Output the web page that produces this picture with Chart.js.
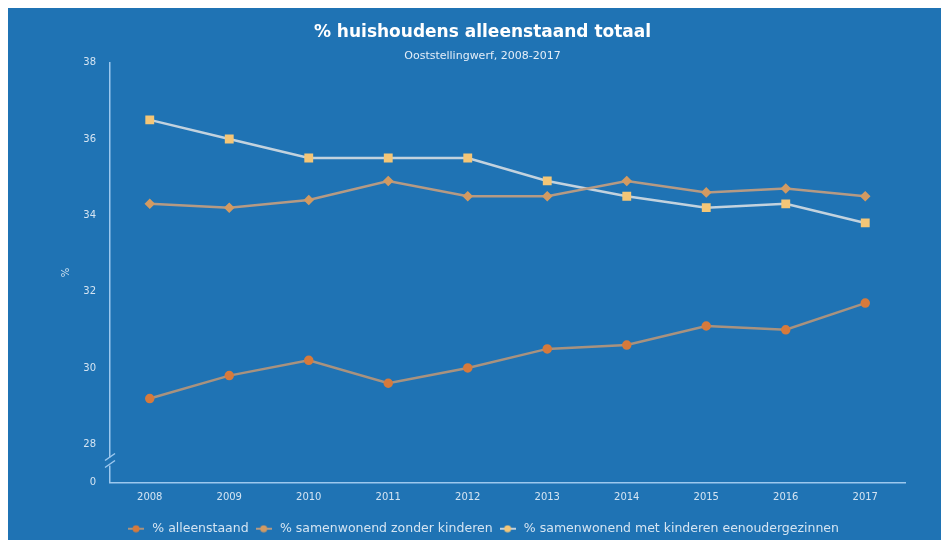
<!DOCTYPE html>
<html>
<head>
<meta charset="utf-8">
<script src="https://cdn.jsdelivr.net/npm/chart.js@4.4.0/dist/chart.umd.min.js"></script>
<style>
  html, body { margin: 0; padding: 0; background: #fff; }
  #wrap { position: absolute; left: 8px; top: 8px; width: 933px; height: 532px; background: #1f73b4; }
</style>
</head>
<body>
<div id="wrap"><canvas id="chart" width="933" height="532"></canvas></div>
<script>
// ---- DATA ----
const years = ['2008', '2009', '2010', '2011', '2012', '2013', '2014', '2015', '2016', '2017'];
const alleenstaand = [29.2, 29.8, 30.2, 29.6, 30.0, 30.5, 30.6, 31.1, 31.0, 31.7];
const zonderKinderen = [34.3, 34.2, 34.4, 34.9, 34.5, 34.5, 34.9, 34.6, 34.7, 34.5];
const metKinderen = [36.5, 36.0, 35.5, 35.5, 35.5, 34.9, 34.5, 34.2, 34.3, 33.8];

// y-as is onderbroken: waarde 27 staat voor "0"
const yTicks = [27, 28, 30, 32, 34, 36, 38];
const yTickLabels = ['0', '28', '30', '32', '34', '36', '38'];

const FONT = 'DejaVu Sans';
const AXIS_COLOR = '#9cc8ee';
const TEXT_COLOR = '#d4e4f2';

// legenda-symbool: lijntje met stip, zoals in het origineel
function legendIcon(lineColor, dotColor) {
  const cv = document.createElement('canvas');
  cv.width = 16;
  cv.height = 8;
  const c = cv.getContext('2d');
  c.strokeStyle = lineColor;
  c.lineWidth = 2;
  c.beginPath();
  c.moveTo(0, 4); c.lineTo(16, 4);
  c.stroke();
  c.fillStyle = dotColor;
  c.beginPath();
  c.arc(8, 4, 3.5, 0, Math.PI * 2);
  c.fill();
  return cv;
}

// ---- AS-ONDERBREKING TEKENEN ----
const axisBreak = {
  id: 'axisBreak',
  afterDraw(chart) {
    const y = chart.scales.y;
    const x0 = y.right;
    const yy = y.getPixelForValue(27.55);
    const c = chart.ctx;
    c.save();
    c.strokeStyle = '#1f73b4';
    c.lineWidth = 4;
    c.beginPath();
    c.moveTo(x0, yy - 4);
    c.lineTo(x0, yy + 4);
    c.stroke();
    c.strokeStyle = AXIS_COLOR;
    c.lineWidth = 1.5;
    c.beginPath();
    c.moveTo(x0 - 5, yy - 1); c.lineTo(x0 + 5, yy - 8);
    c.moveTo(x0 - 5, yy + 6); c.lineTo(x0 + 5, yy - 1);
    c.stroke();
    c.restore();
  }
};

const ctx = document.getElementById('chart').getContext('2d');
new Chart(ctx, {
  type: 'line',
  data: {
    labels: years,
    datasets: [
      {
        label: '% alleenstaand',
        data: alleenstaand,
        borderColor: '#a8927f',
        backgroundColor: '#d67a3c',
        pointBackgroundColor: '#d67a3c',
        pointBorderColor: '#d67a3c',
        pointStyle: 'circle',
        pointRadius: 3.5,
        borderWidth: 2.5,
      },
      {
        label: '% samenwonend zonder kinderen',
        data: zonderKinderen,
        borderColor: '#b59a84',
        backgroundColor: '#d29a62',
        pointBackgroundColor: '#d29a62',
        pointBorderColor: '#d29a62',
        pointStyle: 'rectRot',
        pointRadius: 3.5,
        borderWidth: 2.5,
      },
      {
        label: '% samenwonend met kinderen eenoudergezinnen',
        data: metKinderen,
        borderColor: '#c2d2de',
        backgroundColor: '#f4c677',
        pointBackgroundColor: '#f4c677',
        pointBorderColor: '#f4c677',
        pointStyle: 'rect',
        pointRadius: 4.5,
        borderWidth: 2.5,
      },
    ]
  },
  options: {
    responsive: false,
    animation: false,
    layout: { padding: { left: 52, right: 36, top: 14, bottom: -5 } },
    plugins: {
      title: {
        display: true,
        text: '% huishoudens alleenstaand totaal',
        color: '#ffffff',
        font: { family: FONT, size: 17, weight: 'bold' },
        padding: { top: 0, bottom: 7 },
      },
      subtitle: {
        display: true,
        text: 'Ooststellingwerf, 2008-2017',
        color: '#e4eef8',
        font: { family: FONT, size: 11 },
        padding: { top: 0, bottom: 0 },
      },
      legend: {
        position: 'bottom',
        labels: {
          color: TEXT_COLOR,
          font: { family: FONT, size: 12.5 },
          usePointStyle: true,
          pointStyleWidth: 20,
          boxHeight: 8,
          padding: 5,
          generateLabels: (chart) => chart.data.datasets.map((ds, i) => ({
            text: ds.label,
            fontColor: TEXT_COLOR,
            pointStyle: legendIcon(ds.borderColor, ds.pointBackgroundColor),
            hidden: false,
            lineWidth: 0,
            datasetIndex: i,
          })),
        }
      },
      tooltip: { enabled: false },
    },
    scales: {
      x: {
        offset: true,
        afterFit: (axis) => { axis.height += 5; },
        grid: { display: false, drawTicks: false },
        border: { color: AXIS_COLOR, width: 1.5 },
        ticks: { color: TEXT_COLOR, font: { family: FONT, size: 10 }, padding: 9 },
      },
      y: {
        min: 27,
        max: 38,
        afterBuildTicks: (axis) => { axis.ticks = yTicks.map(v => ({ value: v })); },
        afterFit: (axis) => { axis.width = 50; },
        grid: { display: false, drawTicks: false },
        border: { color: AXIS_COLOR, width: 1.5 },
        title: {
          display: true,
          text: '%',
          color: TEXT_COLOR,
          font: { family: FONT, size: 10 },
          padding: { top: 0, bottom: 0 },
        },
        ticks: {
          color: TEXT_COLOR,
          font: { family: FONT, size: 10 },
          padding: 14,
          callback: (v) => yTickLabels[yTicks.indexOf(v)],
        },
      },
    },
  },
  plugins: [axisBreak],
});
</script>
</body>
</html>
